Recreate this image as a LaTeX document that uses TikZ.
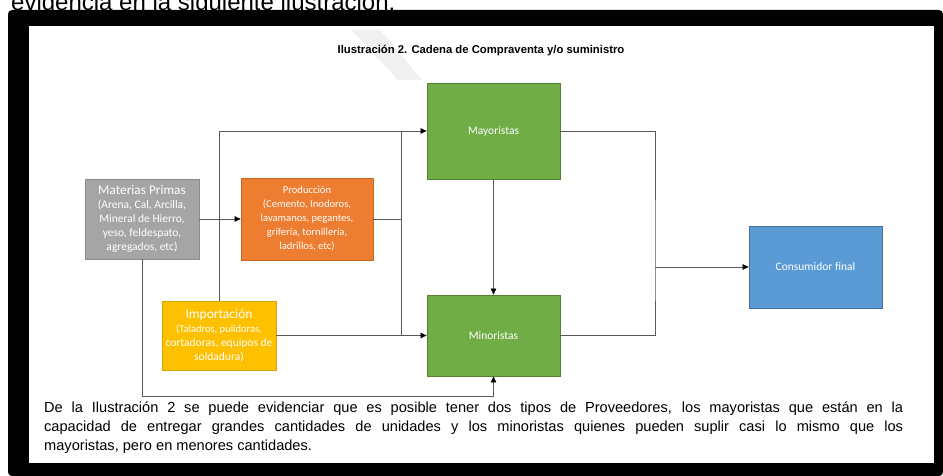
\documentclass[tikz,border=0pt]{standalone}
\usepackage{fontspec}
\setmainfont{Liberation Sans}
\newfontfamily\calib{Carlito}
\usetikzlibrary{arrows.meta,positioning,calc}
\definecolor{mpfill}{HTML}{A5A5A5}
\definecolor{mpdraw}{HTML}{8C8C8C}
\definecolor{prfill}{HTML}{ED7D31}
\definecolor{prdraw}{HTML}{C9651F}
\definecolor{imfill}{HTML}{FFC000}
\definecolor{imdraw}{HTML}{D9A400}
\definecolor{grfill}{HTML}{70AD47}
\definecolor{grdraw}{HTML}{548235}
\definecolor{blfill}{HTML}{5B9BD5}
\definecolor{bldraw}{HTML}{41719C}
\newcommand{\sub}{\fontsize{10.6}{14.2}\selectfont}

\begin{document}
\begin{tikzpicture}[x=1pt, y=-1pt,
  box/.style={draw, line width=0.8pt, text=white, align=center, inner sep=1pt,
    font=\calib\fontsize{11.5}{14}\selectfont},
  link/.style={draw=black!65, line width=0.7pt},
  arr/.style={link, -{Triangle[length=6pt, width=5.5pt, color=black]}}]
  \useasboundingbox (0,0) rectangle (943,476);
  % frame
  \fill[white] (0,0) rectangle (943,476);
  \begin{scope}
    \clip (0,0) rectangle (943,476);
    \node[anchor=base west, inner sep=0pt, font=\fontsize{24}{28}\selectfont] (cut) at (11,11) {evidencia en la siguiente ilustración:};
  \end{scope}
  \fill[black, rounded corners=4pt] (8,10) rectangle (943,476);
  \fill[white] (29,26) rectangle (934,463);
  \fill[black!6] (352,30) -- (380,30) -- (422,80) -- (398,80) -- cycle;
  % title
  \node[font=\bfseries\fontsize{11.3}{13}\selectfont] (title) at (481,51) {Ilustración 2. Cadena de Compraventa y/o suministro};
  % boxes
  \node[box, fill=mpfill, draw=mpdraw, minimum width=114, minimum height=80] (mp) at (142,219)
    {{\fontsize{13.3}{15}\selectfont Materias Primas}\\(Arena, Cal, Arcilla,\\Mineral de Hierro,\\yeso, feldespato,\\agregados, etc)};
  \node[box, fill=prfill, draw=prdraw, minimum width=132, minimum height=82] (prod) at (307,219)
    {\sub Producción\\\sub(Cemento, Inodoros,\\\sub lavamanos, pegantes,\\\sub grifería, tornillería,\\\sub ladrillos, etc)};
  \node[box, fill=imfill, draw=imdraw, minimum width=114, minimum height=69] (imp) at (219,335.5)
    {{\fontsize{13.5}{15}\selectfont Importación}\\\fontsize{10.5}{13.5}\selectfont(Taladros, pulidoras,\\cortadoras, equipos de\\soldadura)};
  \node[box, fill=grfill, draw=grdraw, minimum width=133, minimum height=96] (mayor) at (493.5,131) {Mayoristas};
  \node[box, fill=grfill, draw=grdraw, minimum width=133, minimum height=81] (minor) at (493.5,335.5) {Minoristas};
  \node[box, fill=blfill, draw=bldraw, minimum width=133, minimum height=82] (cons) at (815.5,267) {Consumidor final};
  % connectors
  \coordinate (jl) at (401,131);
  \coordinate (jr) at (655,267);
  \coordinate (low) at (142,396);
  \draw[arr] (mp) -- (prod);
  \draw[link] (prod.east) -- (prod.east -| jl);
  \draw[arr] (imp.north) |- (mayor.west);
  \draw[arr] (imp) -- (minor);
  \draw[link] (jl) -- (jl |- minor.west);
  \draw[arr] (mayor) -- (minor);
  \draw[link] (mayor.east) -| (jr) |- (minor.east);
  \draw[arr] (jr) -- (cons);
  \draw[arr] (mp.south) -- (low) -| (minor.south);
  % text
  \node[anchor=north west, inner sep=0pt, text width=859, align=justify,
    font=\fontsize{14.6}{19}\selectfont] (para) at (44,402)
    {De la Ilustración 2 se puede evidenciar que es posible tener dos tipos de Proveedores, los mayoristas que están en la\linebreak
     capacidad de entregar grandes cantidades de unidades y los minoristas quienes pueden suplir casi lo mismo que los\linebreak
     mayoristas, pero en menores cantidades.};
\end{tikzpicture}
\end{document}
